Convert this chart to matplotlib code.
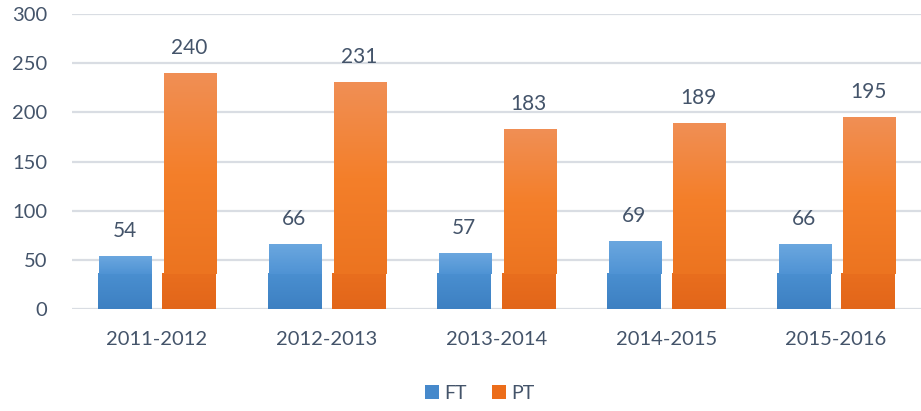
import matplotlib
matplotlib.use("Agg")
import matplotlib.pyplot as plt
import numpy as np
from matplotlib.colors import LinearSegmentedColormap
from matplotlib.patches import Patch

categories = ["2011-2012", "2012-2013", "2013-2014", "2014-2015", "2015-2016"]
ft_values = [54, 66, 57, 69, 66]
pt_values = [240, 231, 183, 189, 195]
series_names = ["FT", "PT"]
y_ticks = [0, 50, 100, 150, 200, 250, 300]

plt.rcParams['font.family'] = ['Lato', 'DejaVu Sans']
text_color = "#44546a"

fig = plt.figure(figsize=(9.21, 4.11), dpi=100)
ax = fig.add_axes([72/921, 1-309/411, 849/921, 295/411])

x = np.arange(len(categories))
w = 0.317
off = 0.19
base_h = 36

ft_top = LinearSegmentedColormap.from_list("ftt", ["#4f93d4", "#6ba7df"])
ft_bot = LinearSegmentedColormap.from_list("ftb", ["#3d80c2", "#4a8fd0"])
pt_top = LinearSegmentedColormap.from_list("ptt", ["#ec7420", "#f47f2a", "#f08f55"])
pt_bot = LinearSegmentedColormap.from_list("ptb", ["#e2661a", "#e96e1e"])

grad = np.linspace(0, 1, 256).reshape(-1, 1)

for yv in y_ticks:
    ax.axhline(yv, color="#d9dde3", lw=1.6, zorder=0)

def draw(vals, xpos, ctop, cbot, name):
    bars = ax.bar(xpos, vals, w, color="none", edgecolor="none", zorder=2, label=name)
    for b, v in zip(bars, vals):
        x0 = b.get_x()
        x1 = x0 + b.get_width()
        hb = min(base_h, v)
        ax.imshow(grad, extent=[x0, x1, 0, hb], origin="lower", aspect="auto",
                  cmap=cbot, zorder=3, interpolation="bicubic")
        if v > base_h:
            ax.imshow(grad, extent=[x0 + 0.01, x1, hb, v], origin="lower", aspect="auto",
                      cmap=ctop, zorder=3, interpolation="bicubic")
        ax.annotate(f"{v}", (b.get_x() + b.get_width()/2, v), xytext=(0, 11),
                    textcoords="offset points", ha="center", va="bottom",
                    fontsize=15, color=text_color)
    return bars

draw(ft_values, x - off, ft_top, ft_bot, series_names[0])
draw(pt_values, x + off, pt_top, pt_bot, series_names[1])

ax.set_xlim(-0.5, len(categories) - 0.5)
ax.set_ylim(0, 300)
ax.set_yticks(y_ticks)
ax.set_xticks(x)
ax.set_xticklabels(categories)
ax.tick_params(axis="both", length=0, labelsize=14.5, colors=text_color)
ax.tick_params(axis="y", pad=18)
ax.tick_params(axis="x", pad=16)
for s in ax.spines.values():
    s.set_visible(False)

handles = [Patch(facecolor="#4689cb", label=series_names[0]),
           Patch(facecolor="#ec6d1a", label=series_names[1])]
fig.legend(handles=handles, loc="center", bbox_to_anchor=(480/921, 1-393/411),
           ncol=2, frameon=False, fontsize=14, handlelength=0.7, handleheight=0.7,
           handletextpad=0.3, columnspacing=1.3, labelcolor=text_color)

fig.savefig("out.png", dpi=100)
